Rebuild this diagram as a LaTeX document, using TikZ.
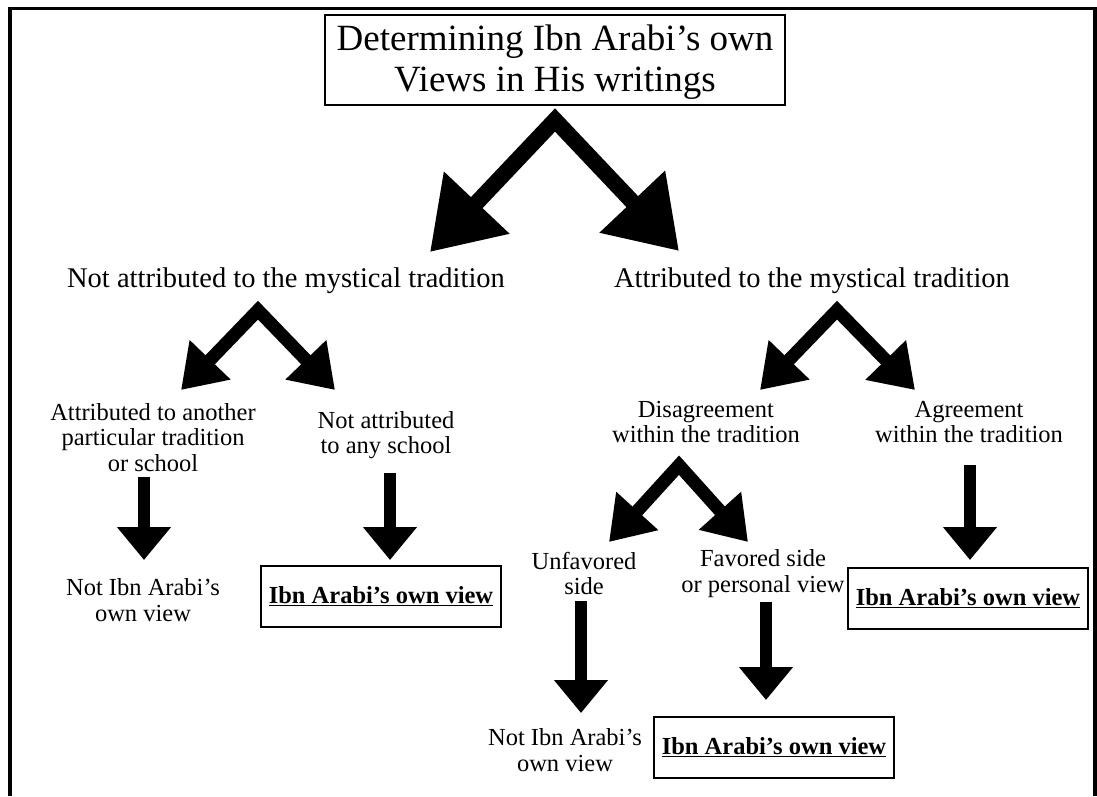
\documentclass[tikz,border=0pt]{standalone}
\usepackage{fontspec}
\setmainfont{Liberation Serif}
\usetikzlibrary{arrows.meta,calc}

\tikzset{
  txt/.style={align=center, inner sep=0pt, font=\fontsize{24.5}{25.5}\selectfont},
  bigtxt/.style={align=center, inner sep=0pt, font=\fontsize{28.5}{30}\selectfont},
  ownbox/.style={draw, line width=2pt, minimum width=240pt, minimum height=61pt, inner sep=0pt, font=\fontsize{24.5}{26}\selectfont\bfseries},
  bigv/.style={line width=16pt, line join=miter, {Triangle[length=68pt,width=86pt]}-{Triangle[length=68pt,width=86pt]}},
  midv/.style={line width=13pt, line join=miter, {Triangle[length=42pt,width=54pt]}-{Triangle[length=42pt,width=54pt]}},
  down/.style={line width=12pt, -{Triangle[length=33pt,width=52pt]}},
}

\begin{document}
\begin{tikzpicture}[x=1pt,y=-1pt]
\useasboundingbox (0,0) rectangle (1097,796);

% frame, open at the bottom
\draw[line width=3.5pt] (10,796) -- (10,8.5) -- (1095,8.5) -- (1095,796);

% nodes
\node[draw, line width=2pt, minimum width=460pt, minimum height=90pt, align=center, font=\fontsize{37}{41}\selectfont, name=title] at (555,60) {\rule{0pt}{30pt}Determining Ibn Arabi's own\\ Views in His writings};

\node[bigtxt, name=notmyst] at (286,281) {Not attributed to the mystical tradition};
\node[bigtxt, name=myst] at (812,281) {Attributed to the mystical tradition};

\node[txt, name=other] at (153,437.5) {Attributed to another\\ particular tradition\\ or school};
\node[txt, name=anyschool] at (386,435) {Not attributed\\ to any school};
\node[txt, name=disag] at (706,422) {Disagreement\\ within the tradition};
\node[txt, name=agree] at (969,422) {Agreement\\ within the tradition};

\node[txt, name=notown1] at (143,600) {Not Ibn Arabi's\\ own view};
\node[ownbox, name=own1] at (381,596) {\underline{Ibn Arabi's own view}};
\node[txt, name=unfav] at (584,573.5) {Unfavored\\ side};
\node[txt, name=fav] at (763,573.5) {Favored side\\ or personal view};
\node[ownbox, name=own2] at (968,598) {\underline{Ibn Arabi's own view}};

\node[txt, name=notown2] at (565,750) {Not Ibn Arabi's\\ own view};
\node[ownbox, name=own3] at (774,747) {\underline{Ibn Arabi's own view}};

% split points and arrow tips
\coordinate (v0) at ($(title.south)+(0,14)$);
\coordinate (v0l) at (430,252);
\coordinate (v0r) at (679,251);
\coordinate (v1) at ($(notmyst.south)+(-28,16)$);
\coordinate (v1l) at (181,390);
\coordinate (v1r) at (335,390);
\coordinate (v2) at ($(myst.south)+(25,16)$);
\coordinate (v2l) at (760,390);
\coordinate (v2r) at (915,390);
\coordinate (v3) at ($(disag.south)+(-27,22)$);
\coordinate (v3l) at (609,542);
\coordinate (v3r) at (748,542);

\coordinate (t1) at (144,560);
\coordinate (t2) at (390,560);
\coordinate (t3) at (970,560);
\coordinate (t4) at (581,713);
\coordinate (t5) at (766,700);

% connections
\draw[bigv] (v0l) -- (v0) -- (v0r);
\draw[midv] (v1l) -- (v1) -- (v1r);
\draw[midv] (v2l) -- (v2) -- (v2r);
\draw[midv] (v3l) -- (v3) -- (v3r);

\draw[down, shorten <=5pt] (t1 |- other.south) -- (t1);
\draw[down, shorten <=14pt] (t2 |- anyschool.south) -- (t2);
\draw[down, shorten <=22pt] (t3 |- agree.south) -- (t3);
\draw[down, shorten <=6pt] (t4 |- unfav.south) -- (t4);
\draw[down, shorten <=4pt] (t5 |- fav.south) -- (t5);

\end{tikzpicture}
\end{document}
